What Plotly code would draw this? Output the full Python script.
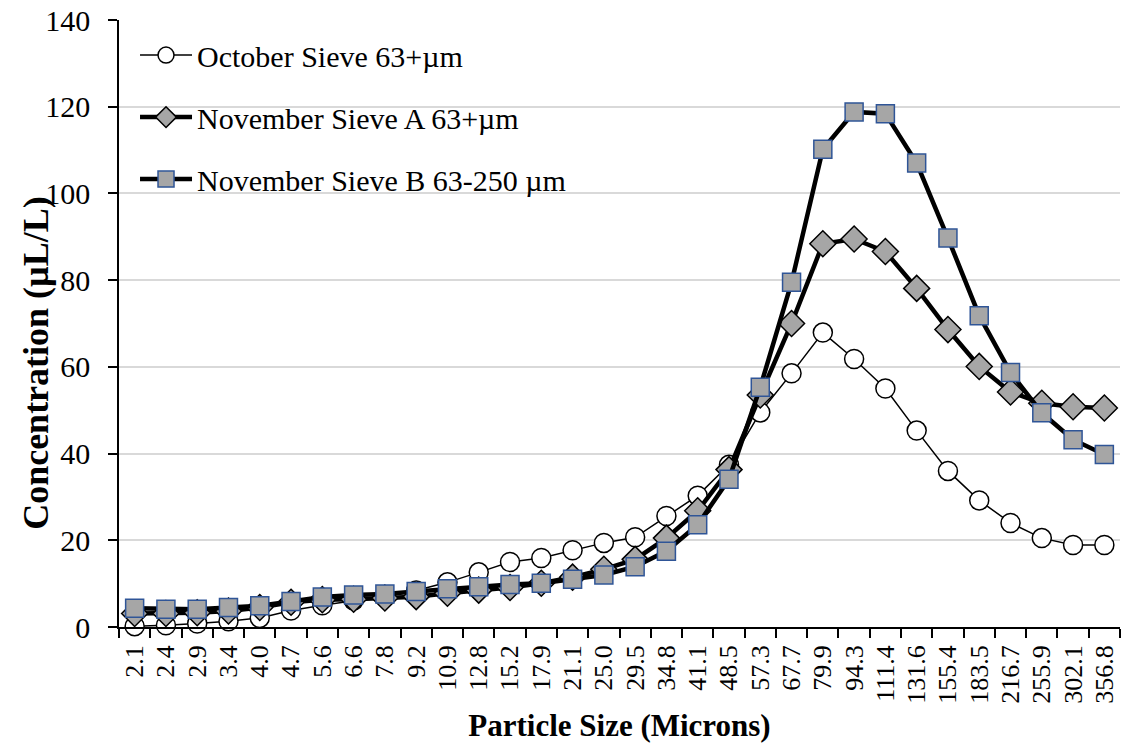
import plotly.graph_objects as go

# Particle size classes (microns)
sizes = ["2.1", "2.4", "2.9", "3.4", "4.0", "4.7", "5.6", "6.6", "7.8", "9.2",
         "10.9", "12.8", "15.2", "17.9", "21.1", "25.0", "29.5", "34.8", "41.1", "48.5",
         "57.3", "67.7", "79.9", "94.3", "111.4", "131.6", "155.4", "183.5", "216.7",
         "255.9", "302.1", "356.8"]

# Concentration (uL/L) per size class
october = [0.2, 0.4, 0.8, 1.3, 2.1, 3.8, 5.0, 6.1, 7.1, 8.4,
           10.3, 12.6, 15.0, 15.9, 17.7, 19.4, 20.7, 25.6, 30.3, 37.4,
           49.5, 58.5, 67.9, 61.8, 55.0, 45.3, 36.0, 29.2, 24.0, 20.5, 18.9, 18.9]
nov_a = [3.1, 3.1, 3.3, 3.7, 4.5, 5.7, 6.3, 6.4, 6.7, 7.0,
         7.8, 8.5, 9.1, 10.1, 11.5, 13.3, 15.6, 20.5, 26.8, 36.3,
         53.5, 70.0, 88.4, 89.5, 86.6, 78.1, 68.6, 60.1, 54.2, 51.6, 50.8, 50.5]
nov_b = [4.3, 4.1, 4.1, 4.5, 4.9, 5.9, 6.9, 7.4, 7.6, 8.2,
         8.8, 9.3, 9.8, 10.1, 11.0, 12.0, 13.9, 17.5, 23.6, 34.1,
         55.3, 79.5, 110.2, 118.8, 118.4, 107.0, 89.7, 71.8, 58.7, 49.4, 43.2, 39.8]

y_ticks = [0, 20, 40, 60, 80, 100, 120, 140]

FONT = "Liberation Serif, Times New Roman, serif"
GREY = "#a6a6a6"

fig = go.Figure()

fig.add_trace(go.Scatter(
    x=sizes, y=october, name="October Sieve 63+µm", legendgroup="a",
    mode="lines+markers", cliponaxis=False,
    line=dict(color="black", width=1.5),
    marker=dict(symbol="circle", size=19, color="white",
                line=dict(color="black", width=1.5)),
))
fig.add_trace(go.Scatter(
    x=sizes, y=nov_a, name="November Sieve A 63+µm", legendgroup="b",
    mode="lines+markers", cliponaxis=False,
    line=dict(color="black", width=4.5),
    marker=dict(symbol="diamond", size=20, color=GREY,
                line=dict(color="black", width=1.5)),
))
fig.add_trace(go.Scatter(
    x=sizes, y=nov_b, name="November Sieve B 63-250 µm", legendgroup="c",
    mode="lines+markers", cliponaxis=False,
    line=dict(color="black", width=4.5),
    marker=dict(symbol="square", size=18, color=GREY,
                line=dict(color="#2f5597", width=1.5)),
))

fig.update_layout(
    width=1122, height=749,
    margin=dict(l=119, r=2, t=20, b=122),
    paper_bgcolor="white", plot_bgcolor="white",
    font=dict(family=FONT, color="black", size=30),
    showlegend=True,
    legend=dict(
        x=0.016, y=0.985, xanchor="left", yanchor="top",
        bgcolor="rgba(0,0,0,0)", font=dict(size=30, family=FONT),
        traceorder="grouped", tracegroupgap=20, itemwidth=52,
    ),
    xaxis=dict(
        type="category", tickson="boundaries",
        tickmode="linear", tick0=0, dtick=1,
        ticks="outside", ticklen=9, tickcolor="black", tickwidth=1.5,
        showline=True, linecolor="black", linewidth=1.5,
        showgrid=False, tickangle=-90, ticklabelstandoff=6,
        tickfont=dict(size=26, family=FONT),
        title=dict(text="<b>Particle Size (Microns)</b>",
                   font=dict(size=31, family=FONT), standoff=12),
        range=[-0.5, len(sizes) - 0.5],
    ),
    yaxis=dict(
        range=[0, 140], tickvals=y_ticks,
        ticks="outside", ticklen=9, tickcolor="black", tickwidth=1.5,
        showline=True, linecolor="black", linewidth=1.5,
        showgrid=True, gridcolor="#d9d9d9", gridwidth=1.5,
        zeroline=False, ticklabelstandoff=12,
        tickfont=dict(size=30, family=FONT),
    ),
    annotations=[dict(
        text="<b>Concentration (µL/L)</b>", textangle=-90,
        xref="paper", yref="paper", x=-0.083, y=0.435,
        xanchor="center", yanchor="middle", showarrow=False,
        font=dict(size=36, family=FONT),
    )],
)

fig.write_html("out.html")
